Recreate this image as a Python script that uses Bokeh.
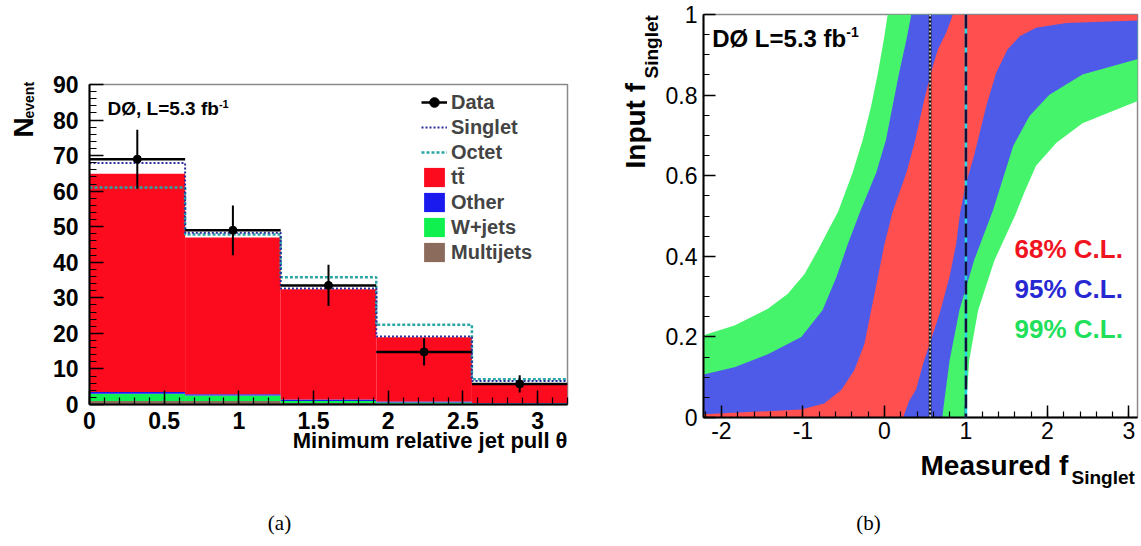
import numpy as np
from bokeh.plotting import figure
from bokeh.models import (Range1d, FixedTicker, CustomJSTickFormatter, Label, Span, Title,
                          Legend, LegendItem, ColumnDataSource)
from bokeh.layouts import row, column
from bokeh.embed import file_html
from bokeh.resources import INLINE

FONT = "Liberation Sans"
SERIF = "Liberation Serif"

# ---------------- panel (a) data ----------------
bin_edges = [0.0, 0.64, 1.28, 1.92, 2.56, 3.2]
data_counts = [69.0, 49.0, 33.5, 14.8, 5.8]
data_errors = [8.3, 7.0, 5.8, 3.8, 2.4]
multijets = [1.0, 1.0, 0.4, 0.2, 0.1]
wjets = [2.0, 1.5, 0.6, 0.35, 0.2]
other = [0.5, 0.4, 0.4, 0.3, 0.15]
ttbar = [61.4, 44.1, 31.0, 18.05, 5.45]
singlet = [67.9, 48.3, 32.6, 19.1, 6.6]
octet = [61.0, 47.8, 35.8, 22.4, 7.1]
x_ticks_a = [0, 0.5, 1, 1.5, 2, 2.5, 3]
y_ticks_a = [0, 10, 20, 30, 40, 50, 60, 70, 80, 90]

# ---------------- panel (b) data: confidence-belt boundaries ----------------
cl68_left_meas = [-6.0, -2.22, -1.02, -0.74, -0.53, -0.37, -0.245, -0.163, -0.08, 0.0, 0.1, 0.27, 0.38, 0.47, 0.57, 0.655, 0.757, 0.84]
cl68_left_input = [0.006, 0.008, 0.02, 0.035, 0.068, 0.117, 0.183, 0.266, 0.348, 0.43, 0.51, 0.608, 0.69, 0.773, 0.855, 0.913, 0.955, 1.0]
cl68_right_meas = [0.23, 0.30, 0.39, 0.47, 0.55, 0.68, 0.80, 0.88, 0.93, 1.0, 1.10, 1.25, 1.37, 1.51, 1.66, 1.86, 2.23, 3.1, 6.0]
cl68_right_input = [0.0, 0.04, 0.07, 0.13, 0.18, 0.26, 0.35, 0.43, 0.51, 0.58, 0.65, 0.773, 0.855, 0.913, 0.946, 0.967, 0.979, 0.985, 0.986]

cl95_left_meas = [-6.0, -2.22, -1.84, -1.43, -1.02, -0.76, -0.59, -0.45, -0.30, -0.10, 0.02, 0.10, 0.18, 0.27, 0.33]
cl95_left_input = [0.08, 0.107, 0.125, 0.157, 0.2, 0.266, 0.348, 0.43, 0.51, 0.608, 0.69, 0.773, 0.855, 0.938, 1.0]
cl95_right_meas = [0.71, 0.72, 0.80, 0.92, 1.10, 1.33, 1.45, 1.58, 1.78, 2.02, 2.43, 3.1, 6.0]
cl95_right_input = [0.0, 0.018, 0.142, 0.266, 0.39, 0.513, 0.59, 0.674, 0.748, 0.80, 0.851, 0.889, 0.95]

cl99_left_meas = [-6.0, -2.22, -1.84, -1.43, -1.185, -0.98, -0.82, -0.67, -0.57, -0.39, -0.265, -0.163, -0.08, -0.007, 0.04]
cl99_left_input = [0.15, 0.204, 0.228, 0.27, 0.307, 0.356, 0.414, 0.472, 0.51, 0.608, 0.69, 0.773, 0.855, 0.938, 1.0]
cl99_right_meas = [0.99, 1.0, 1.04, 1.15, 1.35, 1.60, 1.72, 1.86, 2.11, 2.43, 3.1, 6.0]
cl99_right_input = [0.0, 0.018, 0.142, 0.266, 0.39, 0.50, 0.56, 0.625, 0.682, 0.73, 0.785, 0.87]

measured_fsinglet = 0.56
expected_fsinglet = 1.0
x_ticks_b = [-2, -1, 0, 1, 2, 3]
y_ticks_b = [0, 0.2, 0.4, 0.6, 0.8, 1.0]


def make_fmt():
    return CustomJSTickFormatter(code="return (Math.round(tick*10)/10).toString();")


def style_axes(p, size, bold, tin, tmin, standx, standy):
    p.xgrid.visible = False
    p.ygrid.visible = False
    for ax in (p.xaxis[0], p.yaxis[0]):
        ax.axis_line_color = "black"
        ax.axis_line_width = 2
        ax.major_tick_in = tin
        ax.major_tick_out = 0
        ax.minor_tick_in = tmin
        ax.minor_tick_out = 0
        ax.major_tick_line_width = 1.5
        ax.minor_tick_line_width = 1.2
        ax.major_tick_line_color = "black"
        ax.minor_tick_line_color = "black"
        ax.major_label_text_font = FONT
        ax.major_label_text_font_size = size
        ax.major_label_text_font_style = "bold" if bold else "normal"
        ax.major_label_text_color = "black"
    p.xaxis[0].major_label_standoff = standx
    p.yaxis[0].major_label_standoff = standy
    p.outline_line_color = "#8a8a8a"
    p.outline_line_width = 1.5
    p.background_fill_color = "white"
    p.border_fill_color = "white"


def text_fig(w, h):
    f = figure(width=w, height=h, x_range=Range1d(0, w), y_range=Range1d(0, h),
               x_axis_type=None, y_axis_type=None, min_border=0, title=None,
               output_backend="svg", toolbar_location=None)
    f.grid.visible = False
    f.outline_line_color = None
    f.frame_align = False
    return f


def lab(p, x, y, text, size, color="black", style="bold", align="left", baseline="middle",
        angle=0.0, font=FONT):
    p.add_layout(Label(x=x, y=y, text=text, text_font=font, text_font_size=size,
                       text_font_style=style, text_color=color, text_align=align,
                       text_baseline=baseline, angle=angle))


# ================= panel (a) =================
XA0, XA1, YA0, YA1 = 0.0, 3.2, 0.0, 90.0
FLA, FRA, FTA, FBA = 89, 567, 84, 404
A_LEFTW = 45
A_H = 470
pa = figure(x_range=Range1d(XA0, XA1), y_range=Range1d(YA0, YA1),
            frame_width=FRA - FLA, frame_height=FBA - FTA,
            min_border_left=FLA - A_LEFTW, min_border_right=590 - FRA,
            min_border_top=FTA, min_border_bottom=A_H - FBA,
            output_backend="svg", toolbar_location=None, title=None)
pa.frame_align = False


def ax_(px):
    return XA0 + (px - FLA) / (FRA - FLA) * (XA1 - XA0)


def ay_(py):
    return YA0 + (FBA - py) / (FBA - FTA) * (YA1 - YA0)


lo = bin_edges[:-1]
hi = bin_edges[1:]
centers = [(a + b) / 2 for a, b in zip(lo, hi)]
b0 = [0.0] * 5
b1 = [a + b for a, b in zip(b0, multijets)]
b2 = [a + b for a, b in zip(b1, wjets)]
b3 = [a + b for a, b in zip(b2, other)]
b4 = [a + b for a, b in zip(b3, ttbar)]


def stack(bot, top, color):
    src = ColumnDataSource(dict(left=lo, right=hi, bottom=bot, top=top))
    return pa.quad(left="left", right="right", bottom="bottom", top="top", source=src,
                   fill_color=color, line_color=None)


r_mj = stack(b0, b1, "#8b6b5c")
r_w = stack(b1, b2, "#10f04e")
r_oth = stack(b2, b3, "#1a1aef")
r_tt = stack(b3, b4, "#fc0a1e")

r_oct = pa.step(x=bin_edges, y=octet + [octet[-1]], mode="after", line_color="#2aa6a6",
                line_width=2.5, line_dash="3 2")
r_sing = pa.step(x=bin_edges, y=singlet + [singlet[-1]], mode="after", line_color="#2c2c9c",
                 line_width=2, line_dash="2 2")

dsrc = ColumnDataSource(dict(lo=lo, hi=hi, c=centers, n=data_counts,
                             dn=[n - e for n, e in zip(data_counts, data_errors)],
                             up=[n + e for n, e in zip(data_counts, data_errors)]))
r_dh = pa.segment(x0="lo", x1="hi", y0="n", y1="n", source=dsrc, line_color="black", line_width=2.5)
pa.segment(x0="c", x1="c", y0="dn", y1="up", source=dsrc, line_color="black", line_width=2)
r_dp = pa.scatter(x="c", y="n", source=dsrc, size=8, color="black")

pa.xaxis.ticker = FixedTicker(ticks=x_ticks_a, minor_ticks=[i * 0.1 for i in range(33)])
pa.yaxis.ticker = FixedTicker(ticks=y_ticks_a, minor_ticks=list(range(0, 91, 2)))
pa.xaxis.formatter = make_fmt()
style_axes(pa, "23px", True, 14, 7, 7, 11)

legend = Legend(items=[
    LegendItem(label="Data", renderers=[r_dh, r_dp]),
    LegendItem(label="Singlet", renderers=[r_sing]),
    LegendItem(label="Octet", renderers=[r_oct]),
    LegendItem(label="t\u0074\u0304", renderers=[r_tt]),
    LegendItem(label="Other", renderers=[r_oth]),
    LegendItem(label="W+jets", renderers=[r_w]),
    LegendItem(label="Multijets", renderers=[r_mj]),
], location=(332, 140), glyph_width=26, glyph_height=24, label_height=24, spacing=1,
    padding=0, margin=0, label_standoff=4, label_text_font=FONT, label_text_font_style="bold",
    label_text_font_size="20px", label_text_baseline="middle",
    background_fill_alpha=0, border_line_color=None)
pa.add_layout(legend)

lab(pa, ax_(107), ay_(108), "D\u00d8, L=5.3 fb", "19px")
lab(pa, ax_(107 + 5.863 * 19), ay_(103), "-1", "11px")

pa.add_layout(Title(text="Minimum relative jet pull \u03b8", align="right", vertical_align="top",
                    standoff=-7, offset=0, text_font=FONT, text_font_size="22px",
                    text_font_style="bold", text_color="black"), "below")

ta_left = text_fig(A_LEFTW, A_H)
lab(ta_left, 23.3, A_H - 137, "N", "28px", angle=np.pi / 2)
lab(ta_left, 28.5, A_H - 118, "event", "14px", angle=np.pi / 2)

ta_bot = text_fig(590, 546 - A_H)
lab(ta_bot, 279, (546 - A_H) - (522 - A_H), "(a)", "21px", style="normal", align="center",
    font=SERIF)

# ================= panel (b) =================
FLB, FRB, FTB, FBB = 703, 1137, 14, 417
B_LEFTW = 72
B_H = 448
XB0 = -2.22
XB1 = XB0 + (FRB - FLB) / 81.5
YB0, YB1 = 0.0, 1.0
pb = figure(x_range=Range1d(XB0, XB1), y_range=Range1d(YB0, YB1),
            frame_width=FRB - FLB, frame_height=FBB - FTB,
            min_border_left=FLB - 590 - B_LEFTW, min_border_right=1141 - FRB,
            min_border_top=FTB, min_border_bottom=B_H - FBB,
            output_backend="svg", toolbar_location=None, title=None)
pb.frame_align = False


def bx_(px):
    return XB0 + (px - FLB) / (FRB - FLB) * (XB1 - XB0)


def by_(py):
    return YB0 + (FBB - py) / (FBB - FTB) * (YB1 - YB0)


def belt(lx, ly, rx, ry, color):
    xs = [lx[0]] + list(rx) + [rx[-1]] + list(lx[::-1])
    ys = [0.0] + list(ry) + [1.0] + list(ly[::-1])
    pb.patch(x=xs, y=ys, fill_color=color, line_color=None)


belt(cl99_left_meas, cl99_left_input, cl99_right_meas, cl99_right_input, "#46f46c")
belt(cl95_left_meas, cl95_left_input, cl95_right_meas, cl95_right_input, "#4d5be8")
belt(cl68_left_meas, cl68_left_input, cl68_right_meas, cl68_right_input, "#ff4f4f")

pb.add_layout(Span(location=measured_fsinglet, dimension="height", line_color="black", line_width=2.5))
pb.add_layout(Span(location=measured_fsinglet, dimension="height", line_color="white", line_width=1.5,
                   line_dash="2 2"))
pb.add_layout(Span(location=expected_fsinglet, dimension="height", line_color="#22d8e8", line_width=2.5))
pb.add_layout(Span(location=expected_fsinglet, dimension="height", line_color="#15103a", line_width=2.5,
                   line_dash="14 5"))

pb.xaxis.ticker = FixedTicker(ticks=x_ticks_b, minor_ticks=[-2.2 + 0.2 * i for i in range(28)])
pb.yaxis.ticker = FixedTicker(ticks=y_ticks_b, minor_ticks=[0.05 * i for i in range(21)])
pb.xaxis.formatter = make_fmt()
pb.yaxis.formatter = make_fmt()
style_axes(pb, "23px", False, 12, 6, 4, 6)

lab(pb, bx_(711.7), by_(37.7), "D\u00d8 L=5.3 fb", "24px")
lab(pb, bx_(711.7 + 5.585 * 24), by_(31), "-1", "14px")
lab(pb, bx_(1014), by_(248), "68% C.L.", "26px", color="#f0141e")
lab(pb, bx_(1014), by_(288), "95% C.L.", "26px", color="#2828d2")
lab(pb, bx_(1014), by_(328), "99% C.L.", "26px", color="#20e05a")

tb_left = text_fig(B_LEFTW, B_H)
lab(tb_left, 635 - 590, B_H - 168, "Input f", "28px", angle=np.pi / 2)
lab(tb_left, 650.7 - 590, B_H - 78, "Singlet", "19px", angle=np.pi / 2)

TB_H = 546 - B_H
tb_bot = text_fig(551, TB_H)
lab(tb_bot, 920 - 590, TB_H - (465 - B_H), "Measured f", "28px")
lab(tb_bot, 1071 - 590, TB_H - (477 - B_H), "Singlet", "19px")
lab(tb_bot, 868 - 590, TB_H - (522 - B_H), "(b)", "21px", style="normal", align="center",
    font=SERIF)

layout = row(column(row(ta_left, pa), ta_bot), column(row(tb_left, pb), tb_bot))
open("out.html", "w").write(file_html(layout, INLINE))
